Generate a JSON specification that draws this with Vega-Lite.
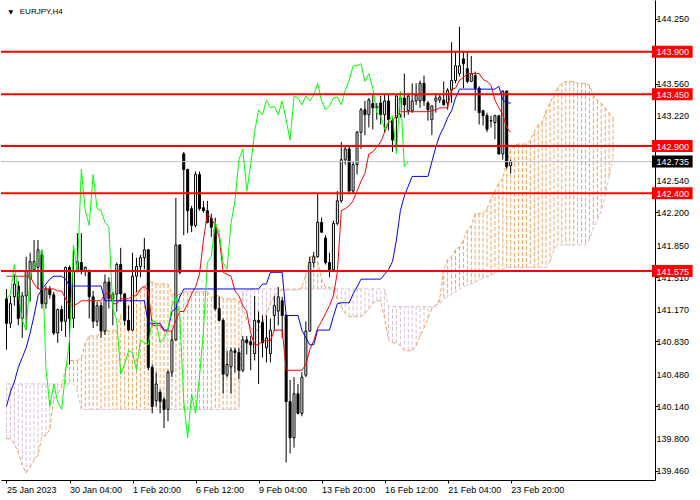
{
  "$schema": "https://vega.github.io/schema/vega-lite/v6.json",
  "width": 654,
  "height": 480,
  "padding": 0,
  "background": "white",
  "config": {"view": {"stroke": null}, "axis": {"labelOverlap": false, "labelBound": false, "labelFlush": false}},
  "datasets": {
    "bars": [
      {"i":0,"o":141.281,"h":141.385,"l":140.741,"c":141.021,"tk":141.52,"kj":140.139},
      {"i":1,"o":141.021,"h":141.312,"l":140.97,"c":141.229,"tk":141.52,"kj":140.295},
      {"i":2,"o":141.302,"h":141.54,"l":141.208,"c":141.437,"tk":141.52,"kj":140.399},
      {"i":3,"o":141.416,"h":141.468,"l":141.0,"c":141.073,"tk":141.52,"kj":140.554},
      {"i":4,"o":141.073,"h":141.354,"l":140.866,"c":141.312,"tk":141.52,"kj":140.658},
      {"i":5,"o":141.312,"h":141.727,"l":140.949,"c":141.571,"tk":141.52,"kj":140.762},
      {"i":6,"o":141.489,"h":141.769,"l":141.25,"c":141.675,"tk":141.52,"kj":140.918},
      {"i":7,"o":141.592,"h":141.904,"l":141.571,"c":141.675,"tk":141.437,"kj":141.104},
      {"i":8,"o":141.613,"h":141.904,"l":141.385,"c":141.8,"tk":141.385,"kj":141.312},
      {"i":9,"o":141.748,"h":141.8,"l":141.177,"c":141.229,"tk":141.385,"kj":141.385},
      {"i":10,"o":141.229,"h":141.416,"l":141.177,"c":141.385,"tk":141.385,"kj":141.437},
      {"i":11,"o":141.385,"h":141.416,"l":141.281,"c":141.323,"tk":141.385,"kj":141.489},
      {"i":12,"o":141.323,"h":141.354,"l":140.897,"c":140.918,"tk":141.385,"kj":141.52},
      {"i":13,"o":140.918,"h":141.177,"l":140.814,"c":141.167,"tk":141.364,"kj":141.52},
      {"i":14,"o":141.167,"h":141.208,"l":140.939,"c":141.042,"tk":141.364,"kj":141.52},
      {"i":15,"o":141.042,"h":141.623,"l":140.877,"c":141.613,"tk":141.281,"kj":141.489},
      {"i":16,"o":141.613,"h":141.634,"l":140.585,"c":141.073,"tk":141.208,"kj":141.416},
      {"i":17,"o":141.073,"h":141.8,"l":140.97,"c":141.571,"tk":141.208,"kj":141.416},
      {"i":18,"o":141.592,"h":141.977,"l":141.561,"c":141.675,"tk":141.229,"kj":141.416},
      {"i":19,"o":141.665,"h":141.977,"l":141.54,"c":141.571,"tk":141.26,"kj":141.416},
      {"i":20,"o":141.571,"h":141.623,"l":141.52,"c":141.613,"tk":141.26,"kj":141.416},
      {"i":21,"o":141.571,"h":141.592,"l":141.073,"c":141.302,"tk":141.26,"kj":141.416},
      {"i":22,"o":141.302,"h":141.364,"l":140.97,"c":141.042,"tk":141.26,"kj":141.416},
      {"i":23,"o":141.042,"h":141.25,"l":140.99,"c":141.208,"tk":141.26,"kj":141.416},
      {"i":24,"o":141.208,"h":141.25,"l":140.866,"c":140.939,"tk":141.26,"kj":141.416},
      {"i":25,"o":140.939,"h":141.54,"l":140.897,"c":141.458,"tk":141.333,"kj":141.26},
      {"i":26,"o":141.458,"h":141.509,"l":141.177,"c":141.281,"tk":141.354,"kj":141.26},
      {"i":27,"o":141.281,"h":141.354,"l":141.0,"c":141.33,"tk":141.229,"kj":141.26},
      {"i":28,"o":141.33,"h":141.665,"l":141.146,"c":141.644,"tk":141.229,"kj":141.26},
      {"i":29,"o":141.644,"h":141.821,"l":141.25,"c":141.333,"tk":141.281,"kj":141.26},
      {"i":30,"o":141.333,"h":141.34,"l":141.0,"c":141.052,"tk":141.281,"kj":141.26},
      {"i":31,"o":141.052,"h":141.208,"l":140.939,"c":140.949,"tk":141.281,"kj":141.26},
      {"i":32,"o":140.949,"h":141.769,"l":140.939,"c":141.52,"tk":141.312,"kj":141.26},
      {"i":33,"o":141.52,"h":141.717,"l":141.354,"c":141.623,"tk":141.312,"kj":141.26},
      {"i":34,"o":141.623,"h":141.748,"l":141.509,"c":141.717,"tk":141.385,"kj":141.26},
      {"i":35,"o":141.717,"h":141.925,"l":141.592,"c":141.8,"tk":141.416,"kj":141.26},
      {"i":36,"o":141.8,"h":141.81,"l":140.523,"c":140.554,"tk":141.364,"kj":141.021},
      {"i":37,"o":140.554,"h":140.585,"l":140.066,"c":140.139,"tk":141.0,"kj":141.021},
      {"i":38,"o":140.2,"h":140.502,"l":140.139,"c":140.378,"tk":141.0,"kj":141.021},
      {"i":39,"o":140.29,"h":140.32,"l":140.066,"c":140.191,"tk":141.0,"kj":141.021},
      {"i":40,"o":140.212,"h":140.243,"l":139.911,"c":140.108,"tk":140.939,"kj":140.949},
      {"i":41,"o":140.108,"h":140.523,"l":139.983,"c":140.502,"tk":140.939,"kj":140.949},
      {"i":42,"o":140.502,"h":140.939,"l":140.451,"c":140.845,"tk":140.939,"kj":141.146},
      {"i":43,"o":140.845,"h":142.35,"l":140.835,"c":141.852,"tk":141.052,"kj":141.177},
      {"i":44,"o":141.852,"h":141.86,"l":141.54,"c":141.561,"tk":141.146,"kj":141.302},
      {"i":45,"o":142.817,"h":142.838,"l":141.956,"c":142.651,"tk":141.146,"kj":141.385},
      {"i":46,"o":142.651,"h":142.661,"l":141.977,"c":142.215,"tk":141.229,"kj":141.385},
      {"i":47,"o":142.236,"h":142.267,"l":141.987,"c":142.059,"tk":141.333,"kj":141.385},
      {"i":48,"o":142.059,"h":142.63,"l":142.039,"c":142.599,"tk":141.406,"kj":141.385},
      {"i":49,"o":142.599,"h":142.63,"l":142.215,"c":142.236,"tk":141.54,"kj":141.385},
      {"i":50,"o":142.246,"h":142.319,"l":142.194,"c":142.215,"tk":141.904,"kj":141.385},
      {"i":51,"o":142.215,"h":142.319,"l":142.08,"c":142.09,"tk":142.184,"kj":141.385},
      {"i":52,"o":142.132,"h":142.184,"l":141.935,"c":142.039,"tk":142.132,"kj":141.385},
      {"i":53,"o":142.028,"h":142.142,"l":141.156,"c":141.177,"tk":142.059,"kj":141.385},
      {"i":54,"o":141.177,"h":141.302,"l":141.042,"c":141.052,"tk":141.935,"kj":141.385},
      {"i":55,"o":141.052,"h":141.073,"l":140.274,"c":140.481,"tk":141.561,"kj":141.385},
      {"i":56,"o":140.471,"h":140.731,"l":140.451,"c":140.585,"tk":141.54,"kj":141.385},
      {"i":57,"o":140.56,"h":140.762,"l":140.274,"c":140.731,"tk":141.52,"kj":141.385},
      {"i":58,"o":140.731,"h":140.762,"l":140.502,"c":140.71,"tk":141.364,"kj":141.385},
      {"i":59,"o":140.71,"h":140.762,"l":140.43,"c":140.523,"tk":141.312,"kj":141.385},
      {"i":60,"o":140.523,"h":140.887,"l":140.502,"c":140.845,"tk":141.208,"kj":141.385},
      {"i":61,"o":140.845,"h":140.887,"l":140.689,"c":140.814,"tk":141.146,"kj":141.385},
      {"i":62,"o":140.825,"h":140.887,"l":140.523,"c":140.793,"tk":140.918,"kj":141.385},
      {"i":63,"o":140.7,"h":141.312,"l":140.627,"c":141.052,"tk":140.793,"kj":141.385},
      {"i":64,"o":141.052,"h":141.146,"l":140.378,"c":141.031,"tk":140.793,"kj":141.385},
      {"i":65,"o":141.031,"h":141.104,"l":140.658,"c":140.814,"tk":140.835,"kj":141.437},
      {"i":66,"o":140.762,"h":141.104,"l":140.606,"c":140.866,"tk":140.835,"kj":141.437},
      {"i":67,"o":140.7,"h":141.073,"l":140.606,"c":140.949,"tk":140.835,"kj":141.561},
      {"i":68,"o":141.104,"h":141.312,"l":140.939,"c":141.208,"tk":140.949,"kj":141.561},
      {"i":69,"o":141.15,"h":141.406,"l":141.0,"c":141.302,"tk":140.949,"kj":141.561},
      {"i":70,"o":141.26,"h":141.302,"l":140.866,"c":141.104,"tk":140.949,"kj":141.561},
      {"i":71,"o":141.104,"h":141.12,"l":139.547,"c":140.191,"tk":140.523,"kj":141.104},
      {"i":72,"o":140.191,"h":140.42,"l":139.641,"c":139.807,"tk":140.523,"kj":141.104},
      {"i":73,"o":139.807,"h":140.451,"l":139.703,"c":140.274,"tk":140.523,"kj":141.104},
      {"i":74,"o":140.274,"h":140.378,"l":140.056,"c":140.066,"tk":140.523,"kj":141.104},
      {"i":75,"o":140.066,"h":140.502,"l":140.035,"c":140.451,"tk":140.523,"kj":140.949},
      {"i":76,"o":140.471,"h":141.042,"l":140.451,"c":140.939,"tk":140.585,"kj":140.866},
      {"i":77,"o":140.939,"h":141.727,"l":140.93,"c":141.665,"tk":140.741,"kj":140.793},
      {"i":78,"o":141.665,"h":141.779,"l":141.613,"c":141.727,"tk":140.835,"kj":140.793},
      {"i":79,"o":141.727,"h":142.392,"l":141.717,"c":142.09,"tk":140.97,"kj":140.949},
      {"i":80,"o":142.09,"h":142.142,"l":141.977,"c":141.987,"tk":141.042,"kj":140.949},
      {"i":81,"o":141.925,"h":141.956,"l":141.644,"c":141.665,"tk":141.125,"kj":140.949},
      {"i":82,"o":141.665,"h":141.769,"l":141.509,"c":141.592,"tk":141.208,"kj":140.949},
      {"i":83,"o":141.592,"h":142.111,"l":141.571,"c":142.08,"tk":141.312,"kj":141.094},
      {"i":84,"o":142.08,"h":142.423,"l":142.059,"c":142.319,"tk":141.561,"kj":141.229},
      {"i":85,"o":142.319,"h":142.942,"l":142.298,"c":142.755,"tk":142.215,"kj":141.239},
      {"i":86,"o":142.755,"h":142.89,"l":142.703,"c":142.869,"tk":142.236,"kj":141.239},
      {"i":87,"o":142.869,"h":142.911,"l":142.402,"c":142.423,"tk":142.267,"kj":141.239},
      {"i":88,"o":142.423,"h":142.734,"l":142.402,"c":142.703,"tk":142.319,"kj":141.333},
      {"i":89,"o":142.703,"h":143.06,"l":142.599,"c":143.046,"tk":142.423,"kj":141.406},
      {"i":90,"o":143.046,"h":143.305,"l":142.869,"c":143.284,"tk":142.527,"kj":141.489},
      {"i":91,"o":143.284,"h":143.378,"l":143.015,"c":143.232,"tk":142.609,"kj":141.489},
      {"i":92,"o":143.232,"h":143.409,"l":143.097,"c":143.388,"tk":142.817,"kj":141.489},
      {"i":93,"o":143.35,"h":143.44,"l":143.077,"c":143.305,"tk":142.838,"kj":141.489},
      {"i":94,"o":143.305,"h":143.357,"l":143.18,"c":143.32,"tk":142.89,"kj":141.489},
      {"i":95,"o":143.357,"h":143.43,"l":143.128,"c":143.232,"tk":142.942,"kj":141.489},
      {"i":96,"o":143.232,"h":143.44,"l":143.046,"c":143.378,"tk":143.046,"kj":141.54},
      {"i":97,"o":143.378,"h":143.44,"l":143.066,"c":143.18,"tk":143.149,"kj":141.592},
      {"i":98,"o":143.17,"h":143.201,"l":142.838,"c":142.963,"tk":143.17,"kj":141.675},
      {"i":99,"o":143.2,"h":143.44,"l":142.859,"c":143.43,"tk":143.222,"kj":141.904},
      {"i":100,"o":143.232,"h":143.44,"l":143.201,"c":143.409,"tk":143.264,"kj":142.215},
      {"i":101,"o":143.409,"h":143.668,"l":143.201,"c":143.336,"tk":143.264,"kj":142.371},
      {"i":102,"o":143.274,"h":143.461,"l":143.232,"c":143.43,"tk":143.264,"kj":142.475},
      {"i":103,"o":143.274,"h":143.565,"l":143.253,"c":143.378,"tk":143.264,"kj":142.578},
      {"i":104,"o":143.378,"h":143.565,"l":143.336,"c":143.44,"tk":143.264,"kj":142.578},
      {"i":105,"o":143.378,"h":143.595,"l":143.305,"c":143.565,"tk":143.264,"kj":142.578},
      {"i":106,"o":143.565,"h":143.647,"l":143.326,"c":143.378,"tk":143.264,"kj":142.578},
      {"i":107,"o":143.357,"h":143.378,"l":143.17,"c":143.284,"tk":143.264,"kj":142.578},
      {"i":108,"o":143.18,"h":143.326,"l":143.015,"c":143.326,"tk":143.274,"kj":142.734},
      {"i":109,"o":143.378,"h":143.461,"l":143.253,"c":143.409,"tk":143.284,"kj":142.89},
      {"i":110,"o":143.388,"h":143.461,"l":143.357,"c":143.419,"tk":143.305,"kj":143.015},
      {"i":111,"o":143.388,"h":143.585,"l":143.33,"c":143.336,"tk":143.305,"kj":143.097},
      {"i":112,"o":143.357,"h":143.513,"l":143.284,"c":143.492,"tk":143.305,"kj":143.201},
      {"i":113,"o":143.492,"h":144.001,"l":143.357,"c":143.595,"tk":143.503,"kj":143.274},
      {"i":114,"o":143.595,"h":143.897,"l":143.565,"c":143.751,"tk":143.513,"kj":143.409},
      {"i":115,"o":143.668,"h":144.166,"l":143.637,"c":143.751,"tk":143.595,"kj":143.503},
      {"i":116,"o":143.824,"h":143.897,"l":143.513,"c":143.772,"tk":143.626,"kj":143.503},
      {"i":117,"o":143.72,"h":143.897,"l":143.565,"c":143.585,"tk":143.668,"kj":143.503},
      {"i":118,"o":143.585,"h":143.855,"l":143.585,"c":143.668,"tk":143.668,"kj":143.503},
      {"i":119,"o":143.647,"h":143.689,"l":143.274,"c":143.513,"tk":143.668,"kj":143.503},
      {"i":120,"o":143.513,"h":143.534,"l":143.128,"c":143.253,"tk":143.668,"kj":143.503},
      {"i":121,"o":143.274,"h":143.284,"l":143.118,"c":143.222,"tk":143.606,"kj":143.503},
      {"i":122,"o":143.222,"h":143.253,"l":143.046,"c":143.077,"tk":143.585,"kj":143.503},
      {"i":123,"o":143.17,"h":143.222,"l":143.097,"c":143.165,"tk":143.544,"kj":143.503},
      {"i":124,"o":143.149,"h":143.232,"l":142.973,"c":143.222,"tk":143.388,"kj":143.503},
      {"i":125,"o":143.222,"h":143.23,"l":142.807,"c":142.817,"tk":143.305,"kj":143.534},
      {"i":126,"o":142.817,"h":143.492,"l":142.755,"c":143.482,"tk":143.232,"kj":143.388},
      {"i":127,"o":143.482,"h":143.492,"l":142.661,"c":142.682,"tk":143.097,"kj":143.357},
      {"i":128,"o":142.692,"h":142.755,"l":142.609,"c":142.735,"tk":143.046,"kj":143.357}
    ],
    "ck": [
      {"i":0,"v":141.281},{"i":1,"v":141.33},{"i":2,"v":141.644},{"i":3,"v":141.333},{"i":4,"v":141.052},
      {"i":5,"v":140.949},{"i":6,"v":141.52},{"i":7,"v":141.623},{"i":8,"v":141.717},{"i":9,"v":141.8},
      {"i":10,"v":140.554},{"i":11,"v":140.139},{"i":12,"v":140.378},{"i":13,"v":140.191},{"i":14,"v":140.108},
      {"i":15,"v":140.502},{"i":16,"v":140.845},{"i":17,"v":141.852},{"i":18,"v":141.561},{"i":19,"v":142.651},
      {"i":20,"v":142.215},{"i":21,"v":142.059},{"i":22,"v":142.599},{"i":23,"v":142.236},{"i":24,"v":142.215},
      {"i":25,"v":142.09},{"i":26,"v":142.039},{"i":27,"v":141.177},{"i":28,"v":141.052},{"i":29,"v":140.481},
      {"i":30,"v":140.585},{"i":31,"v":140.731},{"i":32,"v":140.71},{"i":33,"v":140.523},{"i":34,"v":140.845},
      {"i":35,"v":140.814},{"i":36,"v":140.793},{"i":37,"v":141.052},{"i":38,"v":141.031},{"i":39,"v":140.814},
      {"i":40,"v":140.866},{"i":41,"v":140.949},{"i":42,"v":141.208},{"i":43,"v":141.302},{"i":44,"v":141.104},
      {"i":45,"v":140.191},{"i":46,"v":139.807},{"i":47,"v":140.274},{"i":48,"v":140.066},{"i":49,"v":140.451},
      {"i":50,"v":140.939},{"i":51,"v":141.665},{"i":52,"v":141.727},{"i":53,"v":142.09},{"i":54,"v":141.987},
      {"i":55,"v":141.665},{"i":56,"v":141.592},{"i":57,"v":142.08},{"i":58,"v":142.319},{"i":59,"v":142.755},
      {"i":60,"v":142.869},{"i":61,"v":142.423},{"i":62,"v":142.703},{"i":63,"v":143.046},{"i":64,"v":143.284},
      {"i":65,"v":143.232},{"i":66,"v":143.388},{"i":67,"v":143.305},{"i":68,"v":143.32},{"i":69,"v":143.232},
      {"i":70,"v":143.378},{"i":71,"v":143.18},{"i":72,"v":142.963},{"i":73,"v":143.43},{"i":74,"v":143.409},
      {"i":75,"v":143.336},{"i":76,"v":143.43},{"i":77,"v":143.378},{"i":78,"v":143.44},{"i":79,"v":143.565},
      {"i":80,"v":143.378},{"i":81,"v":143.284},{"i":82,"v":143.326},{"i":83,"v":143.409},{"i":84,"v":143.419},
      {"i":85,"v":143.336},{"i":86,"v":143.492},{"i":87,"v":143.595},{"i":88,"v":143.751},{"i":89,"v":143.751},
      {"i":90,"v":143.772},{"i":91,"v":143.585},{"i":92,"v":143.668},{"i":93,"v":143.513},{"i":94,"v":143.253},
      {"i":95,"v":143.222},{"i":96,"v":143.077},{"i":97,"v":143.165},{"i":98,"v":143.222},{"i":99,"v":142.817},
      {"i":100,"v":143.482},{"i":101,"v":142.682},{"i":102,"v":142.735}
    ],
    "cloud": [
      {"i":0,"a":139.797,"b":140.378},{"i":1,"a":139.797,"b":140.378},{"i":2,"a":139.745,"b":140.378},
      {"i":3,"a":139.651,"b":140.378},{"i":4,"a":139.516,"b":140.378},{"i":5,"a":139.433,"b":140.378},
      {"i":6,"a":139.495,"b":140.378},{"i":7,"a":139.568,"b":140.378},{"i":8,"a":139.62,"b":140.378},
      {"i":9,"a":139.828,"b":140.378},{"i":10,"a":139.828,"b":140.378},{"i":11,"a":139.901,"b":140.378},
      {"i":12,"a":140.212,"b":140.378},{"i":13,"a":140.274,"b":140.378},{"i":14,"a":140.347,"b":140.378},
      {"i":15,"a":140.554,"b":140.378},{"i":16,"a":140.627,"b":140.378},{"i":17,"a":140.627,"b":140.378},
      {"i":18,"a":140.627,"b":140.295},{"i":19,"a":140.658,"b":140.108},{"i":20,"a":140.814,"b":140.108},
      {"i":21,"a":140.887,"b":140.108},{"i":22,"a":140.887,"b":140.108},{"i":23,"a":140.887,"b":140.108},
      {"i":24,"a":140.918,"b":140.108},{"i":25,"a":140.939,"b":140.108},{"i":26,"a":140.939,"b":140.108},
      {"i":27,"a":140.949,"b":140.108},{"i":28,"a":140.949,"b":140.108},{"i":29,"a":141.104,"b":140.108},
      {"i":30,"a":141.156,"b":140.108},{"i":31,"a":141.208,"b":140.108},{"i":32,"a":141.333,"b":140.108},
      {"i":33,"a":141.354,"b":140.108},{"i":34,"a":141.385,"b":140.108},{"i":35,"a":141.406,"b":140.108},
      {"i":36,"a":141.458,"b":140.108},{"i":37,"a":141.458,"b":140.108},{"i":38,"a":141.437,"b":140.108},
      {"i":39,"a":141.437,"b":140.108},{"i":40,"a":141.437,"b":140.108},{"i":41,"a":141.437,"b":140.108},
      {"i":42,"a":141.333,"b":140.108},{"i":43,"a":141.312,"b":140.108},{"i":44,"a":141.333,"b":140.108},
      {"i":45,"a":141.354,"b":140.108},{"i":46,"a":141.354,"b":140.108},{"i":47,"a":141.354,"b":140.108},
      {"i":48,"a":141.354,"b":140.108},{"i":49,"a":141.354,"b":140.108},{"i":50,"a":141.354,"b":140.108},
      {"i":51,"a":141.354,"b":140.108},{"i":52,"a":141.292,"b":140.108},{"i":53,"a":141.312,"b":140.108},
      {"i":54,"a":141.312,"b":140.108},{"i":55,"a":141.281,"b":140.108},{"i":56,"a":141.281,"b":140.108},
      {"i":57,"a":141.281,"b":140.108},{"i":58,"a":141.281,"b":140.108},{"i":59,"a":141.26,"b":140.108},
      {"i":60,"a":141.177,"b":141.364},{"i":61,"a":141.052,"b":141.364},{"i":62,"a":140.97,"b":141.385},
      {"i":63,"a":140.949,"b":141.385},{"i":64,"a":140.949,"b":141.385},{"i":65,"a":141.021,"b":141.385},
      {"i":66,"a":141.125,"b":141.385},{"i":67,"a":141.229,"b":141.385},{"i":68,"a":141.302,"b":141.385},
      {"i":69,"a":141.354,"b":141.385},{"i":70,"a":141.375,"b":141.385},{"i":71,"a":141.375,"b":141.385},
      {"i":72,"a":141.375,"b":141.385},{"i":73,"a":141.375,"b":141.385},{"i":74,"a":141.375,"b":141.385},
      {"i":75,"a":141.406,"b":141.385},{"i":76,"a":141.54,"b":141.385},{"i":77,"a":141.717,"b":141.385},
      {"i":78,"a":141.748,"b":141.385},{"i":79,"a":141.675,"b":141.385},{"i":80,"a":141.489,"b":141.385},
      {"i":81,"a":141.406,"b":141.385},{"i":82,"a":141.406,"b":141.385},{"i":83,"a":141.364,"b":141.385},
      {"i":84,"a":141.281,"b":141.385},{"i":85,"a":141.198,"b":141.385},{"i":86,"a":141.125,"b":141.385},
      {"i":87,"a":141.094,"b":141.385},{"i":88,"a":141.094,"b":141.385},{"i":89,"a":141.094,"b":141.385},
      {"i":90,"a":141.094,"b":141.385},{"i":91,"a":141.125,"b":141.385},{"i":92,"a":141.177,"b":141.385},
      {"i":93,"a":141.229,"b":141.385},{"i":94,"a":141.26,"b":141.385},{"i":95,"a":141.26,"b":141.385},
      {"i":96,"a":141.073,"b":141.385},{"i":97,"a":140.845,"b":141.198},{"i":98,"a":140.814,"b":141.198},
      {"i":99,"a":140.814,"b":141.198},{"i":100,"a":140.783,"b":141.198},{"i":101,"a":140.731,"b":141.198},
      {"i":102,"a":140.731,"b":141.198},{"i":103,"a":140.731,"b":141.198},{"i":104,"a":140.783,"b":141.198},
      {"i":105,"a":140.887,"b":141.198},{"i":106,"a":140.97,"b":141.198},{"i":107,"a":141.073,"b":141.198},
      {"i":108,"a":141.177,"b":141.198},{"i":109,"a":141.208,"b":141.215},{"i":110,"a":141.281,"b":141.229},
      {"i":111,"a":141.592,"b":141.281},{"i":112,"a":141.696,"b":141.302},{"i":113,"a":141.727,"b":141.333},
      {"i":114,"a":141.8,"b":141.354},{"i":115,"a":141.831,"b":141.385},{"i":116,"a":141.904,"b":141.406},
      {"i":117,"a":142.008,"b":141.427},{"i":118,"a":142.059,"b":141.437},{"i":119,"a":142.184,"b":141.458},
      {"i":120,"a":142.184,"b":141.479},{"i":121,"a":142.184,"b":141.499},{"i":122,"a":142.236,"b":141.509},
      {"i":123,"a":142.34,"b":141.53},{"i":124,"a":142.423,"b":141.551},{"i":125,"a":142.506,"b":141.571},
      {"i":126,"a":142.558,"b":141.592},{"i":127,"a":142.734,"b":141.613},{"i":128,"a":142.859,"b":141.613},
      {"i":129,"a":142.911,"b":141.613},{"i":130,"a":142.921,"b":141.613},{"i":131,"a":142.921,"b":141.613},
      {"i":132,"a":142.921,"b":141.613},{"i":133,"a":142.963,"b":141.613},{"i":134,"a":143.046,"b":141.613},
      {"i":135,"a":143.128,"b":141.613},{"i":136,"a":143.149,"b":141.613},{"i":137,"a":143.274,"b":141.613},
      {"i":138,"a":143.357,"b":141.675},{"i":139,"a":143.44,"b":141.8},{"i":140,"a":143.523,"b":141.852},
      {"i":141,"a":143.565,"b":141.852},{"i":142,"a":143.585,"b":141.852},{"i":143,"a":143.585,"b":141.852},
      {"i":144,"a":143.585,"b":141.852},{"i":145,"a":143.565,"b":141.852},{"i":146,"a":143.565,"b":141.852},
      {"i":147,"a":143.565,"b":141.852},{"i":148,"a":143.544,"b":141.904},{"i":149,"a":143.44,"b":142.028},
      {"i":150,"a":143.388,"b":142.111},{"i":151,"a":143.357,"b":142.215},{"i":152,"a":143.305,"b":142.371},
      {"i":153,"a":143.253,"b":142.578},{"i":154,"a":143.201,"b":142.786}
    ],
    "yt": [
      {"p":144.25},{"p":143.56},{"p":143.22},{"p":142.54},{"p":142.2},{"p":141.85},{"p":141.51},
      {"p":141.17},{"p":140.83},{"p":140.48},{"p":140.14},{"p":139.8},{"p":139.46}
    ],
    "lv": [{"p":143.9},{"p":143.45},{"p":142.9},{"p":142.4},{"p":141.575}],
    "bid": [{"p":142.735}]
  },
  "layer": [
    {
      "data": {"name": "cloud"},
      "mark": {"type": "rule", "strokeWidth": 1, "strokeDash": [4, 2]},
      "encoding": {
        "x": {
          "field": "i", "type": "quantitative",
          "scale": {"domain": [-0.125, 163.375], "nice": false, "zero": false},
          "axis": {
            "title": null, "grid": false, "orient": "bottom",
            "values": [0, 16, 32, 48, 64, 80, 96, 112, 128],
            "labelExpr": "['25 Jan 2023','30 Jan 04:00','1 Feb 20:00','6 Feb 12:00','9 Feb 04:00','13 Feb 20:00','16 Feb 12:00','21 Feb 04:00','23 Feb 20:00'][round(datum.value / 16)]",
            "labelAlign": "left", "labelBaseline": "top", "labelPadding": 2,
            "labelFont": "Liberation Sans", "labelFontSize": 9, "labelColor": "black",
            "labelOverlap": false, "labelFlush": false,
            "tickSize": 3, "tickColor": "black", "domainColor": "black"
          }
        },
        "y": {
          "field": "a", "type": "quantitative",
          "scale": {"domain": [139.413, 144.395], "nice": false, "zero": false},
          "axis": {
            "title": null, "grid": false, "orient": "right",
            "values": [144.25, 143.9, 143.56, 143.22, 142.88, 142.54, 142.2, 141.85, 141.51, 141.17, 140.83, 140.48, 140.14, 139.8, 139.46],
            "labels": false,
            "tickSize": 3, "tickColor": "black", "domainColor": "black"
          }
        },
        "y2": {"field": "b"},
        "color": {"condition": {"test": "datum.a >= datum.b", "value": "#f4a460"}, "value": "#d8bfd8"}
      }
    },
    {
      "data": {"name": "cloud"},
      "mark": {"type": "line", "color": "#f4a460", "strokeWidth": 1, "strokeDash": [4, 2]},
      "encoding": {
        "x": {"field": "i", "type": "quantitative"},
        "y": {"field": "a", "type": "quantitative"}
      }
    },
    {
      "data": {"name": "cloud"},
      "mark": {"type": "line", "color": "#d8bfd8", "strokeWidth": 1, "strokeDash": [4, 2]},
      "encoding": {
        "x": {"field": "i", "type": "quantitative"},
        "y": {"field": "b", "type": "quantitative"}
      }
    },
    {
      "data": {"name": "bars"},
      "mark": {"type": "rule", "color": "black", "strokeWidth": 1},
      "encoding": {
        "x": {"field": "i", "type": "quantitative"},
        "y": {"field": "l", "type": "quantitative"},
        "y2": {"field": "h"}
      }
    },
    {
      "data": {"name": "bars"},
      "mark": {"type": "bar", "size": 2, "stroke": "black", "strokeWidth": 1},
      "encoding": {
        "x": {"field": "i", "type": "quantitative"},
        "y": {"field": "o", "type": "quantitative"},
        "y2": {"field": "c"},
        "fill": {"condition": {"test": "datum.c >= datum.o", "value": "white"}, "value": "black"}
      }
    },
    {
      "data": {"name": "bid"},
      "mark": {"type": "rule", "color": "#c0c0c0", "strokeWidth": 1},
      "encoding": {"y": {"field": "p", "type": "quantitative"}}
    },
    {
      "data": {"name": "bars"},
      "mark": {"type": "line", "color": "#ff0000", "strokeWidth": 1},
      "encoding": {
        "x": {"field": "i", "type": "quantitative"},
        "y": {"field": "tk", "type": "quantitative"}
      }
    },
    {
      "data": {"name": "bars"},
      "mark": {"type": "line", "color": "#0000ff", "strokeWidth": 1},
      "encoding": {
        "x": {"field": "i", "type": "quantitative"},
        "y": {"field": "kj", "type": "quantitative"}
      }
    },
    {
      "data": {"name": "ck"},
      "mark": {"type": "line", "color": "#00ff00", "strokeWidth": 1},
      "encoding": {
        "x": {"field": "i", "type": "quantitative"},
        "y": {"field": "v", "type": "quantitative"}
      }
    },
    {
      "data": {"name": "yt"},
      "mark": {"type": "text", "align": "left", "baseline": "middle", "color": "black", "font": "Liberation Sans", "fontSize": 9, "dy": 0.5},
      "encoding": {
        "x": {"datum": 165.0, "type": "quantitative"},
        "y": {"field": "p", "type": "quantitative"},
        "text": {"field": "p", "type": "quantitative", "format": ".3f"}
      }
    },
    {
      "data": {"name": "lv"},
      "mark": {"type": "rule", "color": "#ff0000", "strokeWidth": 2},
      "encoding": {"y": {"field": "p", "type": "quantitative"}}
    },
    {
      "data": {"name": "lv"},
      "mark": {"type": "bar", "orient": "horizontal", "size": 12, "color": "#ff0000"},
      "encoding": {
        "x": {"datum": 163.875, "type": "quantitative"},
        "x2": {"datum": 174.2},
        "y": {"field": "p", "type": "quantitative"}
      }
    },
    {
      "data": {"name": "bid"},
      "mark": {"type": "bar", "orient": "horizontal", "size": 12, "color": "#000000"},
      "encoding": {
        "x": {"datum": 163.875, "type": "quantitative"},
        "x2": {"datum": 174.2},
        "y": {"field": "p", "type": "quantitative"}
      }
    },
    {
      "data": {"name": "lv"},
      "mark": {"type": "text", "align": "left", "baseline": "middle", "color": "white", "font": "Liberation Sans", "fontSize": 9, "dy": 0.5},
      "encoding": {
        "x": {"datum": 165.0, "type": "quantitative"},
        "y": {"field": "p", "type": "quantitative"},
        "text": {"field": "p", "type": "quantitative", "format": ".3f"}
      }
    },
    {
      "data": {"name": "bid"},
      "mark": {"type": "text", "align": "left", "baseline": "middle", "color": "white", "font": "Liberation Sans", "fontSize": 9, "dy": 0.5},
      "encoding": {
        "x": {"datum": 165.0, "type": "quantitative"},
        "y": {"field": "p", "type": "quantitative"},
        "text": {"field": "p", "type": "quantitative", "format": ".3f"}
      }
    },
    {
      "data": {"values": [{"t": "▼"}]},
      "mark": {"type": "text", "align": "center", "baseline": "middle", "color": "black", "font": "DejaVu Sans", "fontSize": 6},
      "encoding": {
        "x": {"datum": 1.125, "type": "quantitative"},
        "y": {"datum": 144.322, "type": "quantitative"},
        "text": {"field": "t"}
      }
    },
    {
      "data": {"values": [{"t": "EURJPY,H4"}]},
      "mark": {"type": "text", "align": "left", "baseline": "middle", "color": "black", "font": "Liberation Sans", "fontSize": 8},
      "encoding": {
        "x": {"datum": 3.375, "type": "quantitative"},
        "y": {"datum": 144.322, "type": "quantitative"},
        "text": {"field": "t"}
      }
    }
  ]
}
